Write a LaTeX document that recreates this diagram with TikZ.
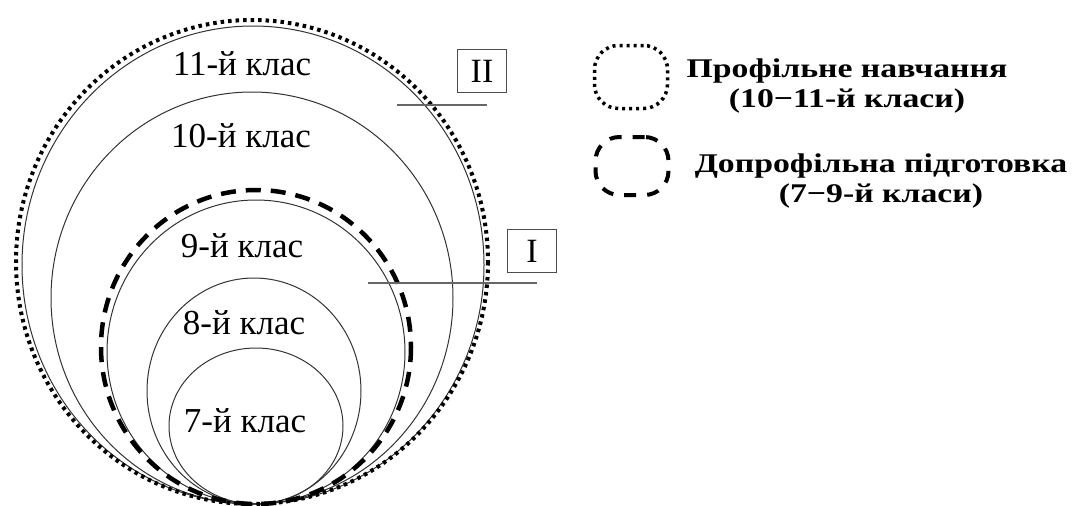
\documentclass[tikz,border=0pt]{standalone}
\usepackage{fontspec}
\setmainfont{Liberation Serif}
\newfontfamily\legendfont[FakeStretch=1.25]{Liberation Serif}
\tikzset{
  klas/.style={font=\fontsize{35}{35}\selectfont, inner sep=0pt},
  ring/.style={draw=black!80, line width=1pt},
  dotring/.style={draw=black, line width=4pt, dash pattern=on 3.5pt off 4pt},
  dashring/.style={draw=black, line width=4.5pt, dash pattern=on 15pt off 10pt},
  levelbox/.style={draw=black!70, line width=1.2pt, minimum width=49pt, minimum height=43pt, font=\fontsize{34}{34}\selectfont, inner sep=0pt},
  levelline/.style={draw=black!60, line width=1.5pt},
  legend/.style={font=\legendfont\bfseries\fontsize{27}{30}\selectfont, align=center, inner sep=0pt},
}
\begin{document}
\begin{tikzpicture}[x=1pt,y=-1pt]
\useasboundingbox (0,0) rectangle (1074,506);
% classes 7 to 11
\foreach \cx/\cy/\rx/\ry in {256/426/87/78, 254/391/107/113, 256/352/149/152, 252/298/201/206, 253/265/231/239}
{
  \draw[ring] (\cx,\cy) ellipse [x radius=\rx, y radius=\ry];
}
\draw[dashring] (256,347) ellipse [x radius=155, y radius=157];
\draw[dotring] (252,262) ellipse [x radius=236, y radius=242];
\node[klas] (k11) at (242,64) {11-й клас};
\node[klas] (k10) at (241,136) {10-й клас};
\node[klas] (k9) at (242,246) {9-й клас};
\node[klas] (k8) at (244,323) {8-й клас};
\node[klas] (k7) at (245,421) {7-й клас};
% levels
\node[levelbox] (lvII) at (482,71) {II};
\node[levelbox] (lvI) at (532,251) {I};
\coordinate (IIa) at (397,105);
\coordinate (IIb) at (487,105);
\coordinate (Ia) at (368,283);
\coordinate (Ib) at (537,283);
\draw[levelline] (IIa) -- (IIb);
\draw[levelline] (Ia) -- (Ib);
% legend
\node[draw, line width=3.5pt, dash pattern=on 3pt off 4pt, rounded corners=24pt, minimum width=73pt, minimum height=63pt] (profkey) at (631,77) {};
\node[draw, line width=4pt, dash pattern=on 12pt off 11pt, rounded corners=24pt, minimum width=73pt, minimum height=58pt] (doprofkey) at (632,166) {};
\node[legend] (prof) at (847,86) {Профільне навчання\\(10−11-й класи)};
\node[legend] (doprof) at (881,181) {Допрофільна підготовка\\(7−9-й класи)};
\end{tikzpicture}
\end{document}
